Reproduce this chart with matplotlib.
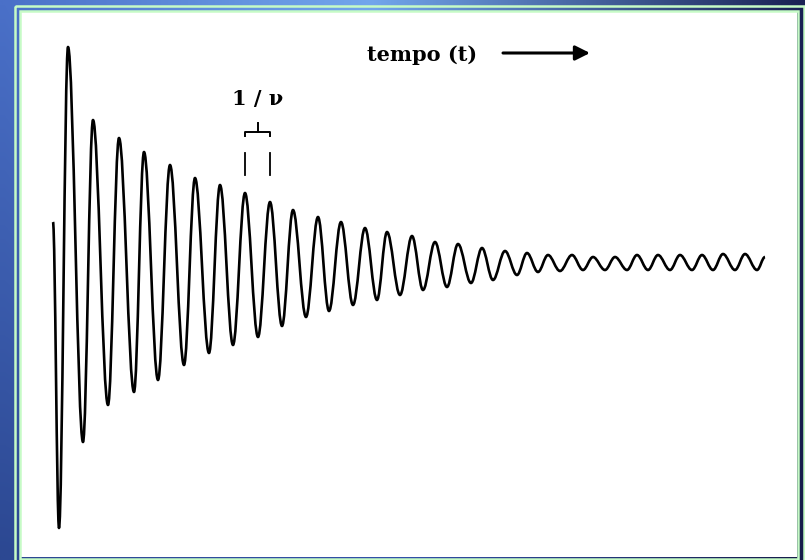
import numpy as np
import matplotlib.pyplot as plt
from matplotlib.path import Path
from matplotlib.patches import PathPatch, Rectangle

# Free induction decay: turning points of the signal (time, amplitude), arbitrary units
t_ext = [-0.2, 0.4, 1.3, 2.8, 3.8, 5.3, 6.4, 7.9, 8.9, 10.3,
         11.5, 12.9, 14.0, 15.4, 16.5, 17.8, 19.0, 20.3, 21.5, 22.7,
         23.8, 25.1, 26.3, 27.4, 28.6, 29.8, 31.0, 32.2, 33.2, 34.5,
         35.7, 36.8, 38.0, 39.2, 40.3, 41.6, 42.7, 43.8, 45.0, 46.2,
         47.2, 48.3, 49.3, 50.5, 51.7, 52.8, 53.8, 55.0, 56.0, 57.2,
         58.2, 59.3, 60.3, 61.5, 62.5, 63.7, 64.7, 65.8, 66.8, 68.0,
         69.0, 70.2, 71.0]
a_ext = [4.0, -26.6, 21.5, -18.0, 14.2, -14.3, 12.4, -13.0, 11.0, -11.8,
         9.7, -10.3, 8.4, -9.1, 7.7, -8.3, 6.9, -7.5, 6.0, -6.4,
         5.2, -5.5, 4.5, -4.9, 4.0, -4.3, 3.4, -3.8, 3.0, -3.3,
         2.6, -2.8, 2.0, -2.5, 1.8, -2.1, 1.4, -1.8, 1.1, -1.3,
         0.9, -1.0, 0.7, -0.9, 0.7, -0.8, 0.5, -0.8, 0.5, -0.8,
         0.7, -0.8, 0.7, -0.8, 0.7, -0.8, 0.7, -0.8, 0.8, -0.8,
         0.8, -0.8, 0.5]

# the two neighbouring maxima spanned by the 1/nu bracket
period_peaks = (16, 18)

title_text = 'tempo (t)'
period_text = '1 / \u03bd'

W, H = 805, 560
GREEN = '#c6fbc6'


def background(ax):
    # blue gradient behind the framed panel
    xs = np.linspace(0, 1, 81)
    top = np.stack([np.interp(xs, [0, 0.46, 1], c) for c in
                    ([74, 114, 26], [112, 166, 34], [200, 236, 84])], axis=-1)
    bot = np.stack([np.interp(xs, [0, 0.5, 1], c) for c in
                    ([44, 50, 22], [72, 80, 28], [146, 170, 74])], axis=-1)
    ys = np.linspace(0, 1, 56)[:, None, None]
    img = (top[None] * (1 - ys) + bot[None] * ys) / 255.0
    ax.imshow(img, extent=(0, W, H, 0), aspect='auto', interpolation='bilinear')

    ax.add_patch(Rectangle((21, 12), 776, 545, facecolor='white', edgecolor='none'))
    ax.add_patch(Rectangle((15.3, 6.3), 788.2, 600, fill=False, edgecolor=GREEN, lw=1.8))
    ax.add_patch(Rectangle((19.8, 10.8), 778.4, 547.7, fill=False, edgecolor=GREEN, lw=1.8))
    ax.set_xlim(0, W)
    ax.set_ylim(H, 0)
    ax.axis('off')


def signal_path(t, a, k=0.36):
    verts = [(t[0], a[0])]
    codes = [Path.MOVETO]
    for i in range(1, len(t)):
        dt = t[i] - t[i - 1]
        verts += [(t[i - 1] + k * dt, a[i - 1]), (t[i] - k * dt, a[i]), (t[i], a[i])]
        codes += [Path.CURVE4] * 3
    return Path(verts, codes)


def main():
    fig = plt.figure(figsize=(W / 100, H / 100), dpi=100)

    bg = fig.add_axes([0, 0, 1, 1])
    background(bg)

    ax = fig.add_axes([0, 0, 1, 1])
    ax.patch.set_alpha(0)
    ax.set_xlim(-5.5, 75.0)
    ax.set_ylim(-29.8, 26.2)
    ax.axis('off')

    ax.add_patch(PathPatch(signal_path(t_ext, a_ext), fill=False,
                           edgecolor='black', lw=1.9, joinstyle='round'))

    # time label and arrow
    ax.text(36.7, 20.7, title_text, family='DejaVu Serif', weight='bold',
            fontsize=15, ha='center', va='center')
    ax.annotate('', xy=(53.5, 20.9), xytext=(44.8, 20.9),
                arrowprops=dict(arrowstyle='-|>', color='black', lw=2.2,
                                mutation_scale=22, shrinkA=0, shrinkB=0))

    # period bracket over two successive maxima
    x0, x1 = t_ext[period_peaks[0]], t_ext[period_peaks[1]]
    xm = (x0 + x1) / 2
    ax.plot([x0, x0, x1, x1], [12.6, 13.0, 13.0, 12.6], color='black', lw=1.4)
    ax.plot([xm, xm], [13.0, 13.9], color='black', lw=1.4)
    ax.plot([x0, x0], [8.7, 10.9], color='black', lw=1.3)
    ax.plot([x1, x1], [8.7, 10.9], color='black', lw=1.3)
    ax.text(xm, 16.3, period_text, family='DejaVu Serif', weight='bold',
            fontsize=15, ha='center', va='center')

    fig.savefig('out.png', dpi=100)


if __name__ == '__main__':
    main()
